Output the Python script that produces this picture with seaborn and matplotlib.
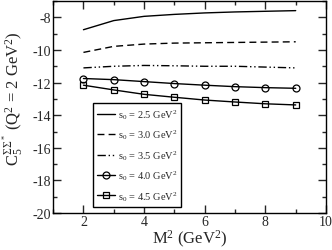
import numpy as np
import pandas as pd
import matplotlib
matplotlib.use("Agg")
import matplotlib.pyplot as plt
import seaborn as sns
from matplotlib.ticker import MultipleLocator

# data
m2 = [2, 3, 4, 5, 6, 7, 8, 9]
s0_25 = [-8.76, -8.20, -7.94, -7.82, -7.73, -7.67, -7.63, -7.59]
s0_30 = [-10.15, -9.78, -9.64, -9.58, -9.56, -9.54, -9.52, -9.50]
s0_35 = [-11.10, -11.00, -10.95, -10.97, -11.00, -11.00, -11.05, -11.10]
s0_40 = [-11.75, -11.82, -11.94, -12.06, -12.16, -12.25, -12.31, -12.35]
s0_45 = [-12.16, -12.45, -12.72, -12.90, -13.07, -13.19, -13.30, -13.37]
labels = [r"s$_0$ = 2.5 GeV$^2$", r"s$_0$ = 3.0 GeV$^2$", r"s$_0$ = 3.5 GeV$^2$",
          r"s$_0$ = 4.0 GeV$^2$", r"s$_0$ = 4.5 GeV$^2$"]

sns.set_style("ticks")
plt.rcParams['font.family'] = ['Liberation Serif', 'DejaVu Serif']
plt.rcParams['mathtext.fontset'] = 'custom'
plt.rcParams['mathtext.rm'] = 'Liberation Serif'
plt.rcParams['mathtext.it'] = 'Liberation Serif:italic'
plt.rcParams['axes.unicode_minus'] = False

fig = plt.figure(figsize=(3.32, 2.51), dpi=100)
ax = fig.add_axes([0.16, 0.147, 0.822, 0.845])

styles = [
    dict(linestyle='-', marker=None),
    dict(linestyle=(0, (5, 3)), marker=None),
    dict(linestyle=(0, (6, 2, 1, 2, 1, 2)), marker=None),
    dict(linestyle='-', marker='o'),
    dict(linestyle='-', marker='s'),
]
for ys, lab, st in zip([s0_25, s0_30, s0_35, s0_40, s0_45], labels, styles):
    df = pd.DataFrame({'x': m2, 'y': ys})
    sns.lineplot(data=df, x='x', y='y', ax=ax, color='black', lw=1.0,
                 linestyle=st['linestyle'], marker=st['marker'], markersize=5,
                 markerfacecolor='none', markeredgecolor='black',
                 markeredgewidth=0.9, label=lab)

ax.set_xlim(1, 10)
ax.set_ylim(-20, -7)
ax.xaxis.set_major_locator(MultipleLocator(2))
ax.xaxis.set_minor_locator(MultipleLocator(1))
ax.yaxis.set_major_locator(MultipleLocator(2))
ax.yaxis.set_minor_locator(MultipleLocator(1))
ax.tick_params(which='both', direction='in', top=True, right=True, labelsize=10, pad=1.5)
ax.tick_params(which='major', length=6, width=1)
ax.tick_params(which='minor', length=3, width=1)
for sp in ax.spines.values():
    sp.set_linewidth(1.0)
    sp.set_color('black')

ax.set_xlabel(r"M$^2$ (GeV$^2$)", fontsize=12, labelpad=0)
ax.set_ylabel(r"C$_5^{\Sigma\Sigma^*}$ (Q$^2$ = 2 GeV$^2$)", fontsize=12)
ax.yaxis.set_label_coords(-0.10, 0.545)

leg = ax.legend(loc='lower left', bbox_to_anchor=(0.145, 0.03), fontsize=7.5,
                frameon=True, fancybox=False, edgecolor='black', framealpha=1,
                handlelength=1.7, handletextpad=0.3, borderpad=0.4,
                labelspacing=0.62, borderaxespad=0)
leg.get_frame().set_linewidth(1.0)

fig.savefig("out.png", dpi=100)
